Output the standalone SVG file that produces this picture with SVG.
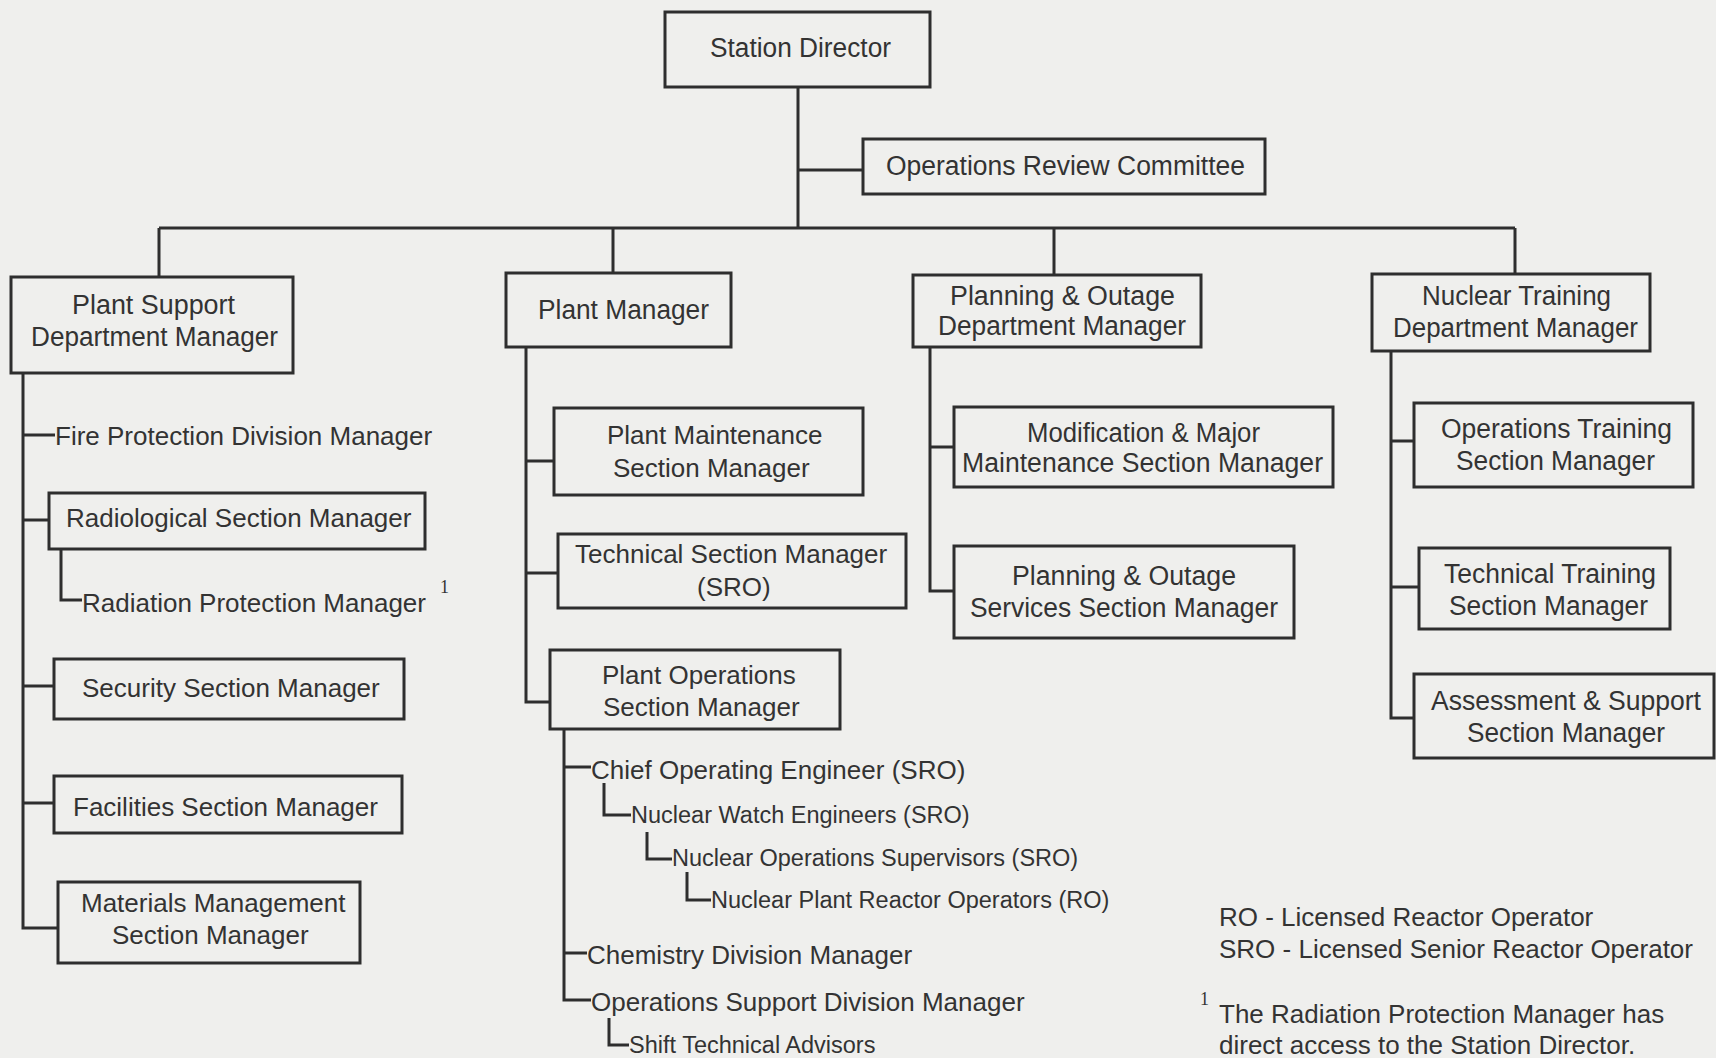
<svg xmlns="http://www.w3.org/2000/svg" width="1716" height="1058" viewBox="0 0 1716 1058">
<style>
.bg{fill:#efefed}
.box{fill:none;stroke:#2e2e2e;stroke-width:3}
.ln{fill:none;stroke:#2e2e2e;stroke-width:3}
text{font-family:"Liberation Sans",Arial,sans-serif;fill:#333}
.c{font-size:27px}
.r{font-size:26px}
.s{font-size:23.5px}
.sup{font-family:"Liberation Serif","Times New Roman",serif;font-size:18px}
</style>
<rect class="bg" x="0" y="0" width="1716" height="1058"/>
<g id="connectors">
<path class="ln" d="M798 87V228M798 170H863M159 228H1515M159 228V277M613 228V273M1054 228V275M1515 228V273"/>
<path class="ln" d="M23 373V928H58M23 435H55M23 520H49M23 686H54M23 803H54M61 549V600H82"/>
<path class="ln" d="M526 347V702H550M526 461H554M526 573H558"/>
<path class="ln" d="M564 729V1000H591M564 767H591M564 953H587M604 783V815H631M647 832V859H672M687 872V900H711M609 1018V1045H629"/>
<path class="ln" d="M930 347V591H954M930 447H954"/>
<path class="ln" d="M1391 351V718H1414M1391 441H1414M1391 587H1419"/>
</g>
<g id="station-director"><rect class="box" x="665" y="12" width="265" height="75"/><text class="c" x="710" y="57" textLength="181" lengthAdjust="spacingAndGlyphs">Station Director</text></g>
<g id="ops-review-committee"><rect class="box" x="863" y="139" width="402" height="55"/><text class="c" x="886" y="175" textLength="359" lengthAdjust="spacingAndGlyphs">Operations Review Committee</text></g>
<g id="plant-support-dept"><rect class="box" x="11" y="277" width="282" height="96"/><text class="c" x="72" y="314" textLength="163" lengthAdjust="spacingAndGlyphs">Plant Support</text><text class="c" x="31" y="346" textLength="247" lengthAdjust="spacingAndGlyphs">Department Manager</text></g>
<g id="plant-manager"><rect class="box" x="506" y="273" width="225" height="74"/><text class="c" x="538" y="319" textLength="171" lengthAdjust="spacingAndGlyphs">Plant Manager</text></g>
<g id="planning-outage-dept"><rect class="box" x="913" y="275" width="288" height="72"/><text class="c" x="950" y="305" textLength="225" lengthAdjust="spacingAndGlyphs">Planning &amp; Outage</text><text class="c" x="938" y="335" textLength="248" lengthAdjust="spacingAndGlyphs">Department Manager</text></g>
<g id="nuclear-training-dept"><rect class="box" x="1372" y="274" width="278" height="77"/><text class="c" x="1422" y="305" textLength="189" lengthAdjust="spacingAndGlyphs">Nuclear Training</text><text class="c" x="1393" y="337" textLength="245" lengthAdjust="spacingAndGlyphs">Department Manager</text></g>
<g id="fire-protection"><text class="r" x="55" y="445">Fire Protection Division Manager</text></g>
<g id="radiological"><rect class="box" x="49" y="493" width="376" height="56"/><text class="r" x="66" y="527">Radiological Section Manager</text></g>
<g id="radiation-protection"><text class="r" x="82" y="612">Radiation Protection Manager</text><text class="sup" x="440" y="593">1</text></g>
<g id="security"><rect class="box" x="54" y="659" width="350" height="60"/><text class="r" x="82" y="697">Security Section Manager</text></g>
<g id="facilities"><rect class="box" x="54" y="776" width="348" height="57"/><text class="r" x="73" y="816">Facilities Section Manager</text></g>
<g id="materials"><rect class="box" x="58" y="882" width="302" height="81"/><text class="r" x="81" y="912">Materials Management</text><text class="r" x="112" y="944">Section Manager</text></g>
<g id="plant-maintenance"><rect class="box" x="554" y="408" width="309" height="87"/><text class="r" x="607" y="444">Plant Maintenance</text><text class="r" x="613" y="477">Section Manager</text></g>
<g id="technical-section"><rect class="box" x="558" y="534" width="348" height="74"/><text class="r" x="575" y="563">Technical Section Manager</text><text class="r" x="697" y="596">(SRO)</text></g>
<g id="plant-operations"><rect class="box" x="550" y="650" width="290" height="79"/><text class="r" x="602" y="684">Plant Operations</text><text class="r" x="603" y="716">Section Manager</text></g>
<g id="chief-operating"><text class="r" x="591" y="779">Chief Operating Engineer (SRO)</text></g>
<g id="nuclear-watch"><text class="s" x="631" y="823">Nuclear Watch Engineers (SRO)</text></g>
<g id="nuclear-ops-supervisors"><text class="s" x="672" y="866">Nuclear Operations Supervisors (SRO)</text></g>
<g id="reactor-operators"><text class="s" x="711" y="908">Nuclear Plant Reactor Operators (RO)</text></g>
<g id="chemistry"><text class="r" x="587" y="964">Chemistry Division Manager</text></g>
<g id="ops-support"><text class="r" x="591" y="1011">Operations Support Division Manager</text></g>
<g id="shift-technical"><text class="s" x="629" y="1053">Shift Technical Advisors</text></g>
<g id="modification"><rect class="box" x="954" y="407" width="379" height="80"/><text class="c" x="1027" y="442" textLength="233" lengthAdjust="spacingAndGlyphs">Modification &amp; Major</text><text class="c" x="962" y="472" textLength="361" lengthAdjust="spacingAndGlyphs">Maintenance Section Manager</text></g>
<g id="planning-services"><rect class="box" x="954" y="546" width="340" height="92"/><text class="c" x="1012" y="585" textLength="224" lengthAdjust="spacingAndGlyphs">Planning &amp; Outage</text><text class="c" x="970" y="617" textLength="308" lengthAdjust="spacingAndGlyphs">Services Section Manager</text></g>
<g id="ops-training"><rect class="box" x="1414" y="403" width="279" height="84"/><text class="c" x="1441" y="438" textLength="231" lengthAdjust="spacingAndGlyphs">Operations Training</text><text class="c" x="1456" y="470" textLength="199" lengthAdjust="spacingAndGlyphs">Section Manager</text></g>
<g id="tech-training"><rect class="box" x="1419" y="548" width="251" height="81"/><text class="c" x="1444" y="583" textLength="212" lengthAdjust="spacingAndGlyphs">Technical Training</text><text class="c" x="1449" y="615" textLength="199" lengthAdjust="spacingAndGlyphs">Section Manager</text></g>
<g id="assessment-support"><rect class="box" x="1414" y="674" width="300" height="84"/><text class="c" x="1431" y="710" textLength="270" lengthAdjust="spacingAndGlyphs">Assessment &amp; Support</text><text class="c" x="1467" y="742" textLength="198" lengthAdjust="spacingAndGlyphs">Section Manager</text></g>
<g id="legend"><text class="r" x="1219" y="926">RO - Licensed Reactor Operator</text><text class="r" x="1219" y="958">SRO - Licensed Senior Reactor Operator</text><text class="sup" x="1200" y="1005">1</text><text class="r" x="1219" y="1023">The Radiation Protection Manager has</text><text class="r" x="1219" y="1054">direct access to the Station Director.</text></g>
</svg>
